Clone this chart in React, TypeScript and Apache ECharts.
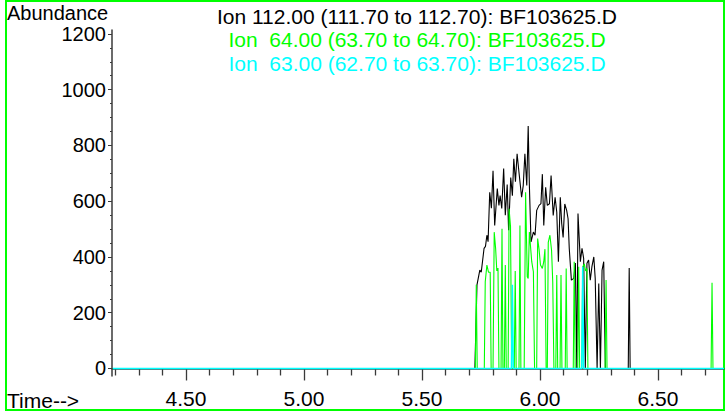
import React, { useEffect, useRef } from "react";
import * as echarts from "echarts";

// ---- Data (time in minutes, abundance) ----
const ion112: [number, number][] = [
  [4.19, 0], [5.724, 0], [5.733, 300], [5.745, 353], [5.751, 345], [5.763, 431], [5.769, 438],
  [5.775, 478], [5.780, 455], [5.787, 632], [5.794, 575], [5.801, 709], [5.808, 513], [5.819, 645],
  [5.826, 585], [5.831, 620], [5.838, 574], [5.846, 717], [5.853, 550], [5.861, 660], [5.867, 496],
  [5.876, 685], [5.883, 620], [5.889, 752], [5.896, 670], [5.903, 770], [5.911, 703], [5.922, 614],
  [5.929, 656], [5.936, 770], [5.944, 656], [5.950, 870], [5.955, 656], [5.962, 454], [5.972, 489],
  [5.979, 478], [5.986, 567], [5.996, 585], [6.004, 591], [6.010, 697], [6.016, 513], [6.024, 650],
  [6.031, 585], [6.040, 591], [6.047, 692], [6.056, 549], [6.064, 614], [6.071, 561], [6.078, 383],
  [6.086, 614], [6.092, 520], [6.098, 470], [6.105, 590], [6.113, 567], [6.119, 537], [6.124, 430],
  [6.133, 317], [6.143, 323], [6.150, 378], [6.156, 0], [6.161, 556], [6.171, 383], [6.178, 431],
  [6.185, 395], [6.192, 0], [6.199, 377], [6.206, 389], [6.213, 317], [6.220, 365], [6.228, 400],
  [6.234, 323], [6.242, 0], [6.249, 305], [6.256, 0], [6.263, 353], [6.270, 383], [6.277, 0],
  [6.374, 0], [6.378, 360], [6.382, 0], [6.78, 0],
];

const ion64: [number, number][] = [
  [4.19, 0], [5.726, 0], [5.730, 300], [5.734, 0],
  [5.764, 0], [5.768, 311], [5.775, 371], [5.782, 345], [5.789, 345], [5.793, 0],
  [5.801, 0], [5.806, 489], [5.812, 430], [5.817, 350], [5.822, 360], [5.826, 0],
  [5.835, 0], [5.839, 501], [5.843, 0],
  [5.849, 0], [5.853, 371], [5.857, 0],
  [5.865, 0], [5.869, 573], [5.875, 510], [5.880, 0],
  [5.891, 0], [5.895, 350], [5.899, 0],
  [5.911, 0], [5.915, 513], [5.919, 0],
  [5.933, 0], [5.939, 632], [5.946, 329], [5.950, 323], [5.955, 489], [5.965, 383], [5.972, 347], [5.977, 0],
  [5.986, 0], [5.990, 466], [5.996, 428], [6.002, 371], [6.010, 359], [6.016, 383], [6.021, 428], [6.026, 0],
  [6.031, 0], [6.035, 452], [6.042, 478], [6.049, 424], [6.054, 311], [6.059, 0],
  [6.067, 0], [6.071, 335], [6.075, 0],
  [6.085, 0], [6.089, 335], [6.093, 0],
  [6.107, 0], [6.111, 359], [6.115, 0],
  [6.141, 0], [6.145, 383], [6.149, 0],
  [6.160, 0], [6.164, 365], [6.168, 0],
  [6.177, 0], [6.181, 365], [6.188, 375], [6.193, 350], [6.199, 359], [6.203, 0],
  [6.276, 0], [6.280, 317], [6.284, 0],
  [6.725, 0], [6.729, 307], [6.733, 0], [6.78, 0],
];

const ion63: [number, number][] = [
  [4.19, 0], [5.879, 0], [5.883, 300], [5.887, 0],
  [6.177, 0], [6.181, 365], [6.185, 0], [6.78, 0],
];

const xMajorTicks = [4.5, 5.0, 5.5, 6.0, 6.5];
const xMinorTicks = [4.2, 4.3, 4.4, 4.6, 4.7, 4.8, 4.9, 5.1, 5.2, 5.3, 5.4, 5.6, 5.7, 5.8, 5.9, 6.1, 6.2, 6.3, 6.4, 6.6, 6.7];
const yMajorTicks = [0, 200, 400, 600, 800, 1000, 1200];
const yMinorTicks = [50, 100, 150, 250, 300, 350, 450, 500, 550, 650, 700, 750, 850, 900, 950, 1050, 1100, 1150];

const legendLines = [
  "Ion 112.00 (111.70 to 112.70): BF103625.D",
  "Ion  64.00 (63.70 to 64.70): BF103625.D",
  "Ion  63.00 (62.70 to 63.70): BF103625.D",
];
const seriesColors = ["#000000", "#00ff00", "#00ffff"];

const X_MIN = 4.1864;
const X_MAX = 6.7797;
const Y_MIN = -27;
const Y_MAX = 1214;

const FONT = "'Liberation Sans', Arial, sans-serif";
const FS = 21;
const FS_SMALL = 20;
const AXIS_COLOR = "#3a3a3a";

export default function App() {
  const ref = useRef<HTMLDivElement>(null);

  useEffect(() => {
    if (!ref.current) return;
    const chart = echarts.init(ref.current, undefined, { renderer: "svg" });

    const baseX = {
      type: "value" as const,
      min: X_MIN,
      max: X_MAX,
      position: "bottom" as const,
      splitLine: { show: false },
    };
    const baseY = {
      type: "value" as const,
      min: Y_MIN,
      max: Y_MAX,
      position: "left" as const,
      splitLine: { show: false },
    };

    chart.setOption({
      animation: false,
      backgroundColor: "#ffffff",
      grid: { left: 112, right: 3, top: 30, bottom: 36, containLabel: false },
      xAxis: [
        {
          ...baseX,
          axisLine: { show: true, lineStyle: { color: AXIS_COLOR, width: 1.5 } },
          axisTick: { show: true, customValues: xMajorTicks, length: 12, lineStyle: { color: AXIS_COLOR, width: 1.3 } },
          axisLabel: {
            customValues: xMajorTicks,
            formatter: (v: number) => v.toFixed(2),
            fontSize: FS,
            fontFamily: FONT,
            color: "#000",
            margin: 13,
            lineHeight: 18,
          },
        },
        {
          ...baseX,
          axisLine: { show: false },
          axisTick: { show: true, customValues: xMinorTicks, length: 7, lineStyle: { color: AXIS_COLOR, width: 1.3 } },
          axisLabel: { show: false },
        },
      ],
      yAxis: [
        {
          ...baseY,
          axisLine: { show: true, lineStyle: { color: AXIS_COLOR, width: 1.5 } },
          axisTick: { show: true, customValues: yMajorTicks, length: 4, lineStyle: { color: AXIS_COLOR, width: 1 } },
          axisLabel: {
            customValues: yMajorTicks,
            formatter: (v: number) => String(Math.round(v)),
            fontSize: FS_SMALL,
            fontFamily: FONT,
            color: "#000",
            margin: 6,
            lineHeight: 18,
          },
        },
        {
          ...baseY,
          axisLine: { show: false },
          axisTick: { show: true, customValues: yMinorTicks, length: 2, lineStyle: { color: AXIS_COLOR, width: 1 } },
          axisLabel: { show: false },
        },
      ],
      series: [
        { name: "Ion 112", data: ion112, color: seriesColors[0] },
        { name: "Ion 64", data: ion64, color: seriesColors[1] },
        { name: "Ion 63", data: ion63, color: seriesColors[2] },
      ].map((s, i) => ({
        type: "line",
        name: s.name,
        data: s.data,
        xAxisIndex: 0,
        yAxisIndex: 0,
        showSymbol: false,
        symbol: "none",
        lineStyle: { color: s.color, width: i === 2 ? 1.5 : 1.1 },
        itemStyle: { color: s.color },
        z: 2 + i,
      })),
      graphic: [
        {
          type: "rect",
          shape: { x: 6, y: 1, width: 718, height: 409 },
          style: { fill: "none", stroke: "#00ff00", lineWidth: 2 },
          silent: true,
        },
        {
          type: "text",
          x: 7,
          y: 13,
          style: {
            text: "Abundance",
            font: `${FS_SMALL}px ${FONT}`,
            fill: "#000",
            align: "left",
            verticalAlign: "middle",
            lineHeight: 18,
          },
        },
        {
          type: "text",
          x: 7,
          y: 400,
          style: {
            text: "Time-->",
            font: `${FS}px ${FONT}`,
            fill: "#000",
            align: "left",
            verticalAlign: "middle",
            lineHeight: 18,
          },
        },
        ...legendLines.map((t, i) => ({
          type: "text",
          x: 417,
          y: 16 + i * 23.5,
          style: {
            text: t,
            font: `${FS}px ${FONT}`,
            fill: seriesColors[i],
            align: "center",
            verticalAlign: "middle",
            lineHeight: 20,
          },
        })),
      ],
    });

    return () => chart.dispose();
  }, []);

  return (
    <div
      ref={ref}
      style={{ position: "fixed", left: 0, top: 0, width: 727, height: 412, background: "#fff" }}
    />
  );
}
